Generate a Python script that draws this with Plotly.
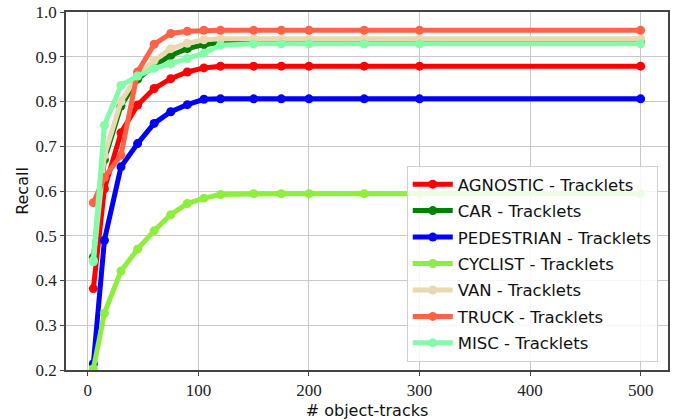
import plotly.graph_objects as go

x_tracks = [5, 15, 30, 45, 60, 75, 90, 105, 120, 150, 175, 200, 250, 300, 500]

agnostic = [0.382, 0.605, 0.730, 0.792, 0.829, 0.851, 0.866, 0.875, 0.879, 0.879, 0.879, 0.879, 0.879, 0.879, 0.879]
car = [0.452, 0.670, 0.790, 0.850, 0.880, 0.903, 0.918, 0.927, 0.932, 0.933, 0.933, 0.933, 0.933, 0.933, 0.933]
pedestrian = [0.214, 0.490, 0.654, 0.706, 0.751, 0.777, 0.793, 0.805, 0.806, 0.806, 0.806, 0.806, 0.806, 0.806, 0.806]
cyclist = [0.203, 0.327, 0.421, 0.470, 0.511, 0.547, 0.572, 0.584, 0.592, 0.594, 0.594, 0.594, 0.594, 0.594, 0.594]
van = [0.445, 0.680, 0.800, 0.858, 0.892, 0.918, 0.930, 0.938, 0.940, 0.940, 0.940, 0.940, 0.940, 0.940, 0.940]
truck = [0.574, 0.630, 0.680, 0.866, 0.928, 0.952, 0.957, 0.959, 0.959, 0.959, 0.959, 0.959, 0.959, 0.959, 0.959]
misc = [0.442, 0.747, 0.836, 0.857, 0.874, 0.884, 0.896, 0.908, 0.926, 0.929, 0.929, 0.929, 0.929, 0.929, 0.929]

series = [
    ("AGNOSTIC - Tracklets", agnostic, "#ff0000"),
    ("CAR - Tracklets", car, "#008000"),
    ("PEDESTRIAN - Tracklets", pedestrian, "#0000ff"),
    ("CYCLIST - Tracklets", cyclist, "#8eee3e"),
    ("VAN - Tracklets", van, "#ead8b0"),
    ("TRUCK - Tracklets", truck, "#ff6347"),
    ("MISC - Tracklets", misc, "#84fba8"),
]

fig = go.Figure()
for i, (name, ys, color) in enumerate(series):
    fig.add_trace(go.Scatter(
        x=x_tracks, y=ys, name=name, mode="lines+markers",
        legendgroup=f"g{i}",
        line=dict(color=color, width=5),
        marker=dict(color=color, size=9),
    ))

tick_font = dict(family="Liberation Serif, DejaVu Serif, serif", size=17, color="#222222")
title_font = dict(family="DejaVu Sans, Lato, sans-serif", size=16, color="#111111")

fig.update_layout(
    width=677, height=420,
    margin=dict(l=66, r=9, t=12, b=50),
    paper_bgcolor="white", plot_bgcolor="white",
    legend=dict(
        x=0.983, y=0.57, xanchor="right", yanchor="top",
        bgcolor="rgba(255,255,255,0.85)", bordercolor="#d0d0d0", borderwidth=1,
        font=dict(family="DejaVu Sans, Lato, sans-serif", size=16.5, color="#111111"),
        tracegroupgap=2, itemwidth=40,
    ),
    showlegend=True,
)
fig.update_xaxes(
    range=[-19.75, 524.75], tickvals=[0, 100, 200, 300, 400, 500],
    showgrid=True, gridcolor="#c8c8c8", gridwidth=1.2,
    showline=True, linecolor="#444444", linewidth=1.5, mirror=True,
    ticks="outside", ticklen=4, tickcolor="#444444", tickfont=tick_font,
    zeroline=False, automargin=False,
    title=dict(text="# object-tracks", font=title_font, standoff=8),
)
fig.update_yaxes(
    range=[0.2, 1.0], tickvals=[0.2, 0.3, 0.4, 0.5, 0.6, 0.7, 0.8, 0.9, 1.0],
    ticktext=["0.2", "0.3", "0.4", "0.5", "0.6", "0.7", "0.8", "0.9", "1.0"],
    showgrid=True, gridcolor="#c8c8c8", gridwidth=1.2,
    showline=True, linecolor="#444444", linewidth=1.5, mirror=True,
    ticks="outside", ticklen=4, tickcolor="#444444", tickfont=tick_font,
    zeroline=False, automargin=False, ticklabeloverflow="allow",
    title=dict(text="Recall", font=title_font, standoff=3),
)

fig.write_html(
    "out.html",
    config={"displayModeBar": False},
    post_script="document.body.style.margin='0';",
)
